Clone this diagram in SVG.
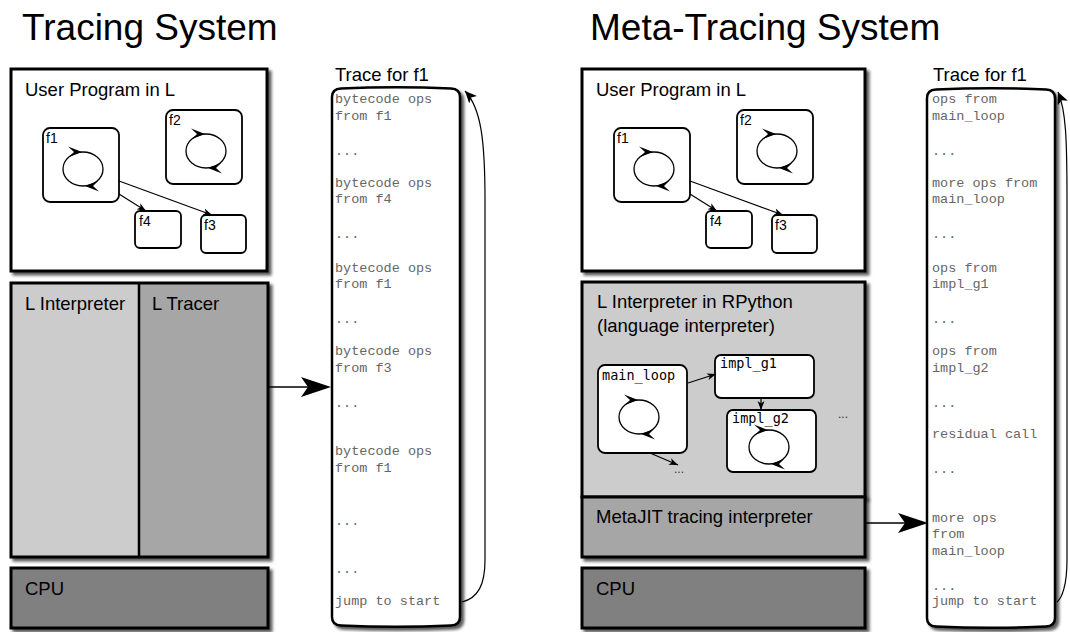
<svg xmlns="http://www.w3.org/2000/svg" width="1070" height="632" viewBox="0 0 1070 632">
  <style>
    text { font-family: "Liberation Sans", Arial, Helvetica, sans-serif; fill: #000; }
    .title { font-size: 37px; }
    .label { font-size: 18.5px; }
    .fn { font-size: 14px; }
    .dots { font-size: 12px; fill: #333; }
    .code { font-family: "DejaVu Sans Mono", "Liberation Mono", monospace; font-size: 13.5px; }
    .trace { font-family: "Liberation Mono", "Courier New", monospace; font-size: 13.5px; fill: #666; }
    .box { stroke: #000; stroke-width: 3; }
    .small { fill: #fff; stroke: #000; stroke-width: 1.8; }
    .tape { fill: #fff; stroke: #000; stroke-width: 2.5; }
    .link { fill: none; stroke: #000; stroke-width: 1.2; }
    .loopline { fill: none; stroke: #000; stroke-width: 1.3; }
  </style>
  <defs>
    <filter id="shadow" x="-10%" y="-10%" width="130%" height="130%">
      <feDropShadow dx="3" dy="3" stdDeviation="1.6" flood-color="#000" flood-opacity="0.65"/>
    </filter>
    <marker id="tip" markerWidth="10" markerHeight="8" refX="9" refY="4" orient="auto" markerUnits="userSpaceOnUse">
      <path d="M0,0.5 L9,4 L0,7.5 L2.5,4 Z" fill="#000"/>
    </marker>
    <marker id="tipBig" markerWidth="14" markerHeight="12" refX="12" refY="6" orient="auto" markerUnits="userSpaceOnUse">
      <path d="M0,0.5 L12,6 L0,11.5 L3,6 Z" fill="#000"/>
    </marker>
    <!-- barbed head used on the loop glyphs, tip at origin, pointing +x -->
    <path id="loopHead" d="M1,0 L-13,-5.5 L-7,0 L-12,5 Z" fill="#000"/>
    <g id="loop">
      <ellipse cx="0" cy="0" rx="20" ry="17" class="loopline"/>
      <use href="#loopHead" transform="translate(-2,-17)"/>
      <use href="#loopHead" transform="translate(3,17) rotate(180)"/>
    </g>
  </defs>

  <!-- headings -->
  <text class="title" x="22" y="40">Tracing System</text>
  <text class="title" x="590" y="40">Meta-Tracing System</text>

  <!-- ===== left: tracing system ===== -->
  <g id="user-program-left">
    <rect class="box" x="11" y="69" width="256" height="202" fill="#fff" filter="url(#shadow)"/>
    <text class="label" x="25" y="96">User Program in L</text>
  </g>
  <g id="f1-left">
    <rect class="small" x="43" y="128" width="76" height="74" rx="7"/>
    <text class="fn" x="46" y="143">f1</text>
    <use href="#loop" x="83" y="169"/>
  </g>
  <g id="f2-left">
    <rect class="small" x="166" y="110" width="76" height="74" rx="7"/>
    <text class="fn" x="169" y="125">f2</text>
    <use href="#loop" x="206" y="151"/>
  </g>
  <g id="f4-left">
    <rect class="small" x="135" y="211" width="46" height="37" rx="5"/>
    <text class="fn" x="139" y="226">f4</text>
  </g>
  <g id="f3-left">
    <rect class="small" x="201" y="215" width="45" height="38" rx="5"/>
    <text class="fn" x="204" y="230">f3</text>
  </g>

  <g id="interpreter-tracer-left" filter="url(#shadow)">
    <rect x="11" y="283" width="128" height="274" fill="#cccccc"/>
    <rect x="139" y="283" width="129" height="274" fill="#a6a6a6"/>
    <rect class="box" x="11" y="283" width="257" height="274" fill="none"/>
    <line x1="139" y1="283" x2="139" y2="557" stroke="#000" stroke-width="2.5"/>
  </g>
  <g id="interpreter-tracer-left-labels">
    <text class="label" x="25" y="310">L Interpreter</text>
    <text class="label" x="152" y="310">L Tracer</text>
  </g>

  <g id="cpu-left">
    <rect class="box" x="11" y="568" width="257" height="60" fill="#808080" filter="url(#shadow)"/>
    <text class="label" x="25" y="595">CPU</text>
  </g>

  <g id="trace-left">
    <text class="label" x="335" y="81">Trace for f1</text>
    <path class="tape" filter="url(#shadow)" d="M332,617 L332,97 Q332,89 341,88.5 Q396,86 451,88.5 Q460,89 460,97 L460,617 Q460,625 451,625.5 Q396,628 341,625.5 Q332,625 332,617 Z"/>
    <text class="trace" x="335" y="103">bytecode ops</text>
    <text class="trace" x="335" y="120">from f1</text>
    <text class="trace" x="335" y="155">...</text>
    <text class="trace" x="335" y="187">bytecode ops</text>
    <text class="trace" x="335" y="203">from f4</text>
    <text class="trace" x="335" y="238">...</text>
    <text class="trace" x="335" y="272">bytecode ops</text>
    <text class="trace" x="335" y="288">from f1</text>
    <text class="trace" x="335" y="323">...</text>
    <text class="trace" x="335" y="355">bytecode ops</text>
    <text class="trace" x="335" y="372">from f3</text>
    <text class="trace" x="335" y="407">...</text>
    <text class="trace" x="335" y="455">bytecode ops</text>
    <text class="trace" x="335" y="472">from f1</text>
    <text class="trace" x="335" y="525">...</text>
    <text class="trace" x="335" y="573">...</text>
    <text class="trace" x="335" y="605">jump to start</text>
  </g>

  <!-- ===== right: meta-tracing system ===== -->
  <g id="user-program-right">
    <rect class="box" x="582" y="69" width="283" height="202" fill="#fff" filter="url(#shadow)"/>
    <text class="label" x="596" y="96">User Program in L</text>
  </g>
  <g id="f1-right">
    <rect class="small" x="614" y="128" width="76" height="74" rx="7"/>
    <text class="fn" x="617" y="143">f1</text>
    <use href="#loop" x="654" y="169"/>
  </g>
  <g id="f2-right">
    <rect class="small" x="737" y="110" width="76" height="74" rx="7"/>
    <text class="fn" x="740" y="125">f2</text>
    <use href="#loop" x="777" y="151"/>
  </g>
  <g id="f4-right">
    <rect class="small" x="706" y="211" width="46" height="37" rx="5"/>
    <text class="fn" x="710" y="226">f4</text>
  </g>
  <g id="f3-right">
    <rect class="small" x="772" y="215" width="45" height="38" rx="5"/>
    <text class="fn" x="775" y="230">f3</text>
  </g>

  <g id="interpreter-right">
    <rect class="box" x="582" y="282" width="283" height="215" fill="#cccccc" filter="url(#shadow)"/>
    <text class="label" x="597" y="308">L Interpreter in RPython</text>
    <text class="label" x="597" y="332">(language interpreter)</text>
    <text class="dots" x="838" y="418">...</text>
    <text class="dots" x="674" y="473">...</text>
  </g>
  <g id="main-loop">
    <rect class="small" x="598" y="365" width="89" height="88" rx="7"/>
    <text class="code" x="602" y="380">main_loop</text>
    <use href="#loop" x="639" y="417"/>
  </g>
  <g id="impl-g1">
    <rect class="small" x="715" y="355" width="99" height="43" rx="6"/>
    <text class="code" x="720" y="368">impl_g1</text>
  </g>
  <g id="impl-g2">
    <rect class="small" x="727" y="410" width="89" height="62" rx="6"/>
    <text class="code" x="732" y="423">impl_g2</text>
    <use href="#loop" x="769" y="447"/>
  </g>

  <g id="metajit">
    <rect class="box" x="582" y="497" width="283" height="60" fill="#a6a6a6" filter="url(#shadow)"/>
    <text class="label" x="596" y="523">MetaJIT tracing interpreter</text>
  </g>

  <g id="cpu-right">
    <rect class="box" x="582" y="568" width="283" height="60" fill="#808080" filter="url(#shadow)"/>
    <text class="label" x="596" y="595">CPU</text>
  </g>

  <g id="trace-right">
    <text class="label" x="933" y="81">Trace for f1</text>
    <path class="tape" filter="url(#shadow)" d="M927,618 L927,98 Q927,90 936,89.5 Q991,87 1046,89.5 Q1055,90 1055,98 L1055,618 Q1055,626 1046,626.5 Q991,629 936,626.5 Q927,626 927,618 Z"/>
    <text class="trace" x="932" y="103">ops from</text>
    <text class="trace" x="932" y="120">main_loop</text>
    <text class="trace" x="932" y="155">...</text>
    <text class="trace" x="932" y="187">more ops from</text>
    <text class="trace" x="932" y="203">main_loop</text>
    <text class="trace" x="932" y="238">...</text>
    <text class="trace" x="932" y="272">ops from</text>
    <text class="trace" x="932" y="288">impl_g1</text>
    <text class="trace" x="932" y="323">...</text>
    <text class="trace" x="932" y="355">ops from</text>
    <text class="trace" x="932" y="372">impl_g2</text>
    <text class="trace" x="932" y="407">...</text>
    <text class="trace" x="932" y="438">residual call</text>
    <text class="trace" x="932" y="473">...</text>
    <text class="trace" x="932" y="522">more ops</text>
    <text class="trace" x="932" y="538">from</text>
    <text class="trace" x="932" y="555">main_loop</text>
    <text class="trace" x="932" y="590">...</text>
    <text class="trace" x="932" y="605">jump to start</text>
  </g>

  <!-- ===== connectors ===== -->
  <g id="connectors">
    <!-- calls inside the user programs -->
    <line class="link" x1="119" y1="194" x2="146" y2="211" marker-end="url(#tip)"/>
    <line class="link" x1="119" y1="181" x2="212" y2="215" marker-end="url(#tip)"/>
    <line class="link" x1="690" y1="194" x2="717" y2="211" marker-end="url(#tip)"/>
    <line class="link" x1="690" y1="181" x2="783" y2="215" marker-end="url(#tip)"/>
    <!-- calls inside the interpreter -->
    <line class="link" x1="688" y1="383" x2="716" y2="374" marker-end="url(#tip)"/>
    <line class="link" x1="761" y1="398" x2="761" y2="410" marker-end="url(#tip)"/>
    <line class="link" x1="650" y1="453" x2="678" y2="465" marker-end="url(#tip)"/>
    <!-- tracer output into the trace -->
    <line x1="268" y1="387" x2="310" y2="387" stroke="#000" stroke-width="1.5"/>
    <path d="M331,387 L301,377 L308,387 L301,397 Z" fill="#000"/>
    <line x1="865" y1="523" x2="906" y2="523" stroke="#000" stroke-width="1.5"/>
    <path d="M928,523 L898,513 L905,523 L898,533 Z" fill="#000"/>
    <!-- jump back to the start of the trace -->
    <path class="link" d="M462,602 C478,598 485,585 485,560 L485,200 C485,140 481,108 465,91" marker-end="url(#tipBig)"/>
    <path class="link" d="M1057,602 C1062,598 1067,585 1067,560 L1067,200 C1067,140 1066,110 1058,92" marker-end="url(#tipBig)"/>
  </g>
</svg>
